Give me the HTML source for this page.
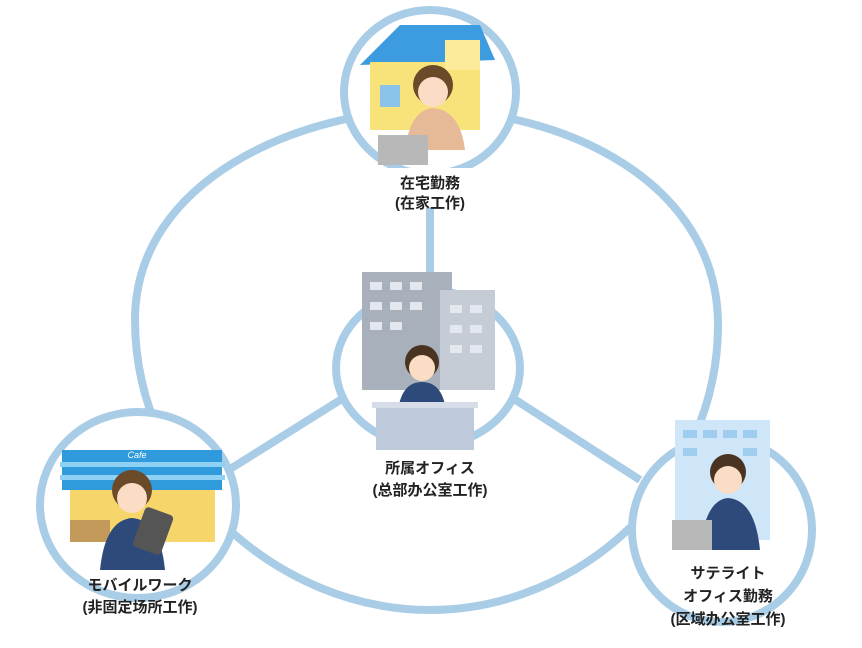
<!DOCTYPE html>
<html><head><meta charset="utf-8"><style>
body{margin:0;background:#fff;width:862px;height:643px;overflow:hidden}
.t{font-family:"Liberation Sans","Noto Sans CJK JP",sans-serif;font-weight:bold;font-size:15px;fill:#222;text-anchor:middle}
</style></head><body>
<svg width="862" height="643" viewBox="0 0 862 643">
<g stroke="#a9cde6" stroke-width="8" fill="none">
<path d="M430,110 C300,110 135,180 135,320 C135,485 280,610 430,610 C580,610 718,485 718,325 C718,180 560,110 430,110Z"/>
<line x1="430" y1="170" x2="430" y2="295"/>
<line x1="227" y1="471" x2="345" y2="397"/>
<line x1="511" y1="397" x2="640" y2="480"/>
</g>
<g stroke="#a9cde6" stroke-width="8" fill="#fff">
<ellipse cx="430" cy="92" rx="86" ry="82"/>
<ellipse cx="428" cy="368" rx="92" ry="78"/>
<ellipse cx="138" cy="505" rx="98" ry="93"/>
<ellipse cx="722" cy="530" rx="90" ry="92"/>
</g>
<!-- top house -->
<polygon points="360,65 400,25 480,25 495,60" fill="#3d9be0"/>
<rect x="370" y="62" width="110" height="68" fill="#f8e27a"/>
<rect x="445" y="40" width="35" height="30" fill="#fbeb9a"/>
<rect x="380" y="85" width="20" height="22" fill="#8cc3ea"/>
<circle cx="433" cy="85" r="20" fill="#6b4a2a"/>
<circle cx="433" cy="92" r="15" fill="#fbdcc4"/>
<path d="M405,150 Q410,110 433,108 Q460,110 465,150Z" fill="#e6b997"/>
<rect x="378" y="135" width="50" height="30" fill="#b8b8b8"/>
<!-- center building -->
<rect x="362" y="272" width="90" height="118" fill="#a8b0bc"/>
<rect x="440" y="290" width="55" height="100" fill="#c5ccd6"/>
<g fill="#e4e8ee"><rect x="370" y="282" width="12" height="8"/><rect x="390" y="282" width="12" height="8"/><rect x="410" y="282" width="12" height="8"/><rect x="370" y="302" width="12" height="8"/><rect x="390" y="302" width="12" height="8"/><rect x="410" y="302" width="12" height="8"/><rect x="370" y="322" width="12" height="8"/><rect x="390" y="322" width="12" height="8"/><rect x="450" y="305" width="12" height="8"/><rect x="470" y="305" width="12" height="8"/><rect x="450" y="325" width="12" height="8"/><rect x="470" y="325" width="12" height="8"/><rect x="450" y="345" width="12" height="8"/><rect x="470" y="345" width="12" height="8"/></g>
<circle cx="422" cy="362" r="17" fill="#4a3320"/>
<circle cx="422" cy="368" r="13" fill="#fbdcc4"/>
<path d="M398,410 Q402,382 422,382 Q442,382 446,410Z" fill="#2e4a7a"/>
<rect x="376" y="405" width="98" height="45" fill="#bfc9dc"/>
<rect x="372" y="402" width="106" height="6" fill="#d6dde8"/>
<!-- left cafe -->
<rect x="62" y="450" width="160" height="40" fill="#2f9bdc"/>
<rect x="60" y="462" width="165" height="5" fill="#8fd0f5"/>
<rect x="60" y="475" width="165" height="5" fill="#8fd0f5"/>
<rect x="70" y="490" width="145" height="52" fill="#f6d66a"/>
<rect x="70" y="520" width="40" height="22" fill="#c49a5a"/>
<text x="137" y="458" font-family="Liberation Sans" font-size="9" fill="#fff" text-anchor="middle" font-style="italic">Cafe</text>
<circle cx="132" cy="490" r="20" fill="#6b4a2a"/>
<circle cx="132" cy="498" r="15" fill="#fbdcc4"/>
<path d="M100,570 Q105,520 132,518 Q160,520 165,570Z" fill="#2e4a7a"/>
<rect x="138" y="510" width="30" height="42" rx="4" fill="#555" transform="rotate(20 153 531)"/>
<!-- right building -->
<rect x="675" y="420" width="95" height="120" fill="#cfe6f8"/>
<g fill="#9fcdf0"><rect x="683" y="430" width="14" height="8"/><rect x="703" y="430" width="14" height="8"/><rect x="723" y="430" width="14" height="8"/><rect x="743" y="430" width="14" height="8"/><rect x="683" y="448" width="14" height="8"/><rect x="743" y="448" width="14" height="8"/></g>
<circle cx="728" cy="472" r="18" fill="#4a3320"/>
<circle cx="728" cy="480" r="14" fill="#fbdcc4"/>
<path d="M700,550 Q705,500 728,498 Q755,500 760,550Z" fill="#2e4a7a"/>
<rect x="672" y="520" width="40" height="30" fill="#b8b8b8"/>
<!-- labels -->
<rect x="385" y="168" width="90" height="40" fill="#fff"/>
<text class="t" x="430" y="188">在宅勤務</text>
<text class="t" x="430" y="208">(在家工作)</text>
<text class="t" x="430" y="473">所属オフィス</text>
<text class="t" x="430" y="495">(总部办公室工作)</text>
<text class="t" x="140" y="590">モバイルワーク</text>
<text class="t" x="140" y="612">(非固定场所工作)</text>
<text class="t" x="728" y="578">サテライト</text>
<text class="t" x="728" y="601">オフィス勤務</text>
<text class="t" x="728" y="624">(区域办公室工作)</text>
</svg>
</body></html>
